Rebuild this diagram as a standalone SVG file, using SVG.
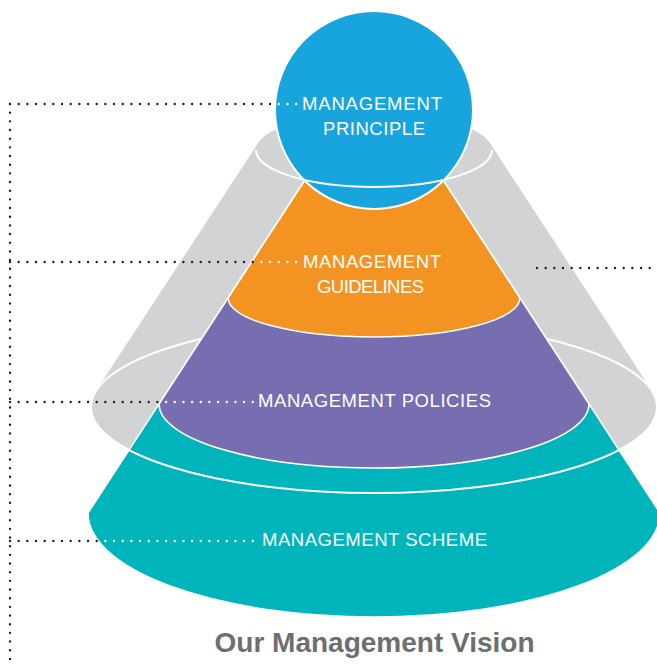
<svg xmlns="http://www.w3.org/2000/svg" width="657" height="664" viewBox="0 0 657 664">
<style>
.lbl{font-family:"Liberation Sans",Arial,sans-serif;font-size:18.5px;fill:#ffffff;}
.title{font-family:"Liberation Sans",Arial,sans-serif;font-size:28px;font-weight:bold;fill:#6d6e71;}
.dk{stroke:#231f20;stroke-width:2.4;stroke-linecap:round;stroke-dasharray:0 8.67;fill:none;}
.wd{stroke:#ffffff;stroke-width:2.4;stroke-linecap:round;stroke-dasharray:0 8.67;fill:none;}
.wl{stroke:#ffffff;stroke-width:2;fill:none;}
.seg{stroke:#ffffff;stroke-width:1.5;}
</style>
<rect width="657" height="664" fill="#ffffff"/>
<g id="backdrop">
<path d="M258.4 142.6 A118 37 0 0 1 489.6 142.6 L651.6 390.2 A283 86 0 1 1 96.4 390.2 Z" fill="#d1d3d4"/>
<path class="wl" d="M91 407 A283 86 0 0 1 657 407"/>
</g>
<g id="scheme">
<path class="seg" d="M305 180 L88 513 A286 104 0 0 0 660 513 L443 180 Z" fill="#00b4bb"/>
</g>
<g id="policies">
<path class="seg" d="M305 180 L159 404 A215 64 0 0 0 589 404 L443 180 Z" fill="#766eb0"/>
</g>
<g id="guidelines">
<path class="seg" d="M305 180 L228.1 298 A145.9 39 0 0 0 519.9 298 L443 180 Z" fill="#f39422"/>
</g>
<path class="wl" d="M91 407 A283 86 0 0 0 657 407"/>
<g id="principle">
<circle cx="374" cy="110" r="99" fill="#18a4dc" stroke="#ffffff" stroke-width="2"/>
</g>
<path class="wl" d="M256 150 A118 37 0 0 0 492 150"/>
<g id="connectors">
<line class="dk" x1="10" y1="104" x2="10" y2="664"/>
<line class="dk" x1="10" y1="104" x2="270.5" y2="104"/>
<line class="wd" x1="278.8" y1="104" x2="296.5" y2="104"/>
<line class="dk" x1="10" y1="262" x2="253.2" y2="262"/>
<line class="wd" x1="261.4" y1="262" x2="296.5" y2="262"/>
<line class="dk" x1="10" y1="402" x2="157.8" y2="402"/>
<line class="wd" x1="166.1" y1="402" x2="253.2" y2="402"/>
<line class="dk" x1="10" y1="541" x2="97" y2="541"/>
<line class="wd" x1="105.4" y1="541" x2="253.2" y2="541"/>
<line class="dk" x1="537" y1="268" x2="657" y2="268"/>
</g>
<g id="labels">
<text class="lbl" x="302" y="110" textLength="140" lengthAdjust="spacing">MANAGEMENT</text>
<text class="lbl" x="323" y="135" textLength="102" lengthAdjust="spacing">PRINCIPLE</text>
<text class="lbl" x="303" y="268" textLength="138" lengthAdjust="spacing">MANAGEMENT</text>
<text class="lbl" x="317" y="293" textLength="107" lengthAdjust="spacing">GUIDELINES</text>
<text class="lbl" x="258" y="407" textLength="233" lengthAdjust="spacing">MANAGEMENT POLICIES</text>
<text class="lbl" x="262" y="546" textLength="225" lengthAdjust="spacing">MANAGEMENT SCHEME</text>
</g>
<text class="title" x="374.5" y="652" text-anchor="middle">Our Management Vision</text>
</svg>
